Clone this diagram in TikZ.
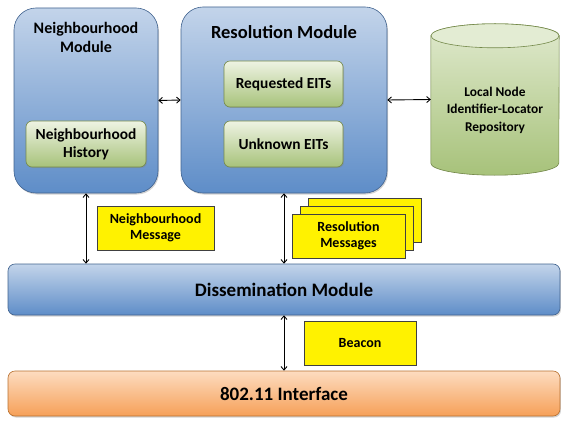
\documentclass[tikz,border=0pt]{standalone}
\usepackage{fontspec}
\setmainfont{Carlito}
\usepackage{tikz}
\usetikzlibrary{arrows.meta,positioning,calc,shadows}
\definecolor{bluetop}{HTML}{C3D4EA}
\definecolor{bluebot}{HTML}{5E8DC8}
\definecolor{blueline}{HTML}{41638F}
\definecolor{greentop}{HTML}{EEF3E3}
\definecolor{greenbot}{HTML}{A7C27A}
\definecolor{greenline}{HTML}{74894A}
\definecolor{orangetop}{HTML}{FDDCC0}
\definecolor{orangebot}{HTML}{F6A058}
\definecolor{orangeline}{HTML}{B8702F}
\tikzset{
  modbox/.style = {rounded corners=22pt, draw=blueline, line width=0.6pt,
                   top color=bluetop, bottom color=bluebot, inner sep=0pt,
                   drop shadow={shadow xshift=1pt, shadow yshift=-1.5pt, opacity=0.35}},
  barbox/.style = {rounded corners=7pt, draw=blueline, line width=0.6pt,
                   top color=bluetop, bottom color=bluebot, inner sep=0pt,
                   font=\fontsize{19}{22}\selectfont\bfseries,
                   drop shadow={shadow xshift=1pt, shadow yshift=-1.5pt, opacity=0.35}},
  inbox/.style  = {rounded corners=6pt, draw=greenline, line width=0.6pt,
                   top color=greentop, bottom color=greenbot, align=center, inner sep=0pt,
                   font=\fontsize{15.4}{18}\selectfont\bfseries,
                   drop shadow={shadow xshift=1pt, shadow yshift=-1pt, opacity=0.35}},
  msg/.style    = {draw=black!75, line width=0.6pt, fill=yellow, align=center, inner sep=0pt,
                   font=\fontsize{14}{16}\selectfont\bfseries,
                   drop shadow={shadow xshift=1.2pt, shadow yshift=-1.2pt, opacity=0.45}},
  ttl/.style    = {align=center, font=\fontsize{16}{19}\selectfont\bfseries},
  ar/.style     = {{Straight Barb[length=3.5pt,width=6pt]}-{Straight Barb[length=3.5pt,width=6pt]},
                   line width=0.9pt},
}

\begin{document}
\begin{tikzpicture}[x=1pt,y=-1pt]
  \useasboundingbox (0,0) rectangle (561,422);

  % upper modules
  \node[modbox, minimum width=144pt, minimum height=185pt] (nmod) at (86,100.5) {};
  \node[ttl] (nmodttl) at (86,37.5) {Neighbourhood\\Module};
  \node[inbox, minimum width=120pt, minimum height=46pt] (nhist) at (86,144)
    {Neighbourhood\\History};

  \node[modbox, minimum width=206pt, minimum height=186pt] (rmod) at (284,100) {};
  \node[ttl, font=\fontsize{18.5}{21}\selectfont\bfseries] (rmodttl) at (284,32) {Resolution Module};
  \node[inbox, minimum width=119pt, minimum height=46pt] (req) at (283.5,84) {Requested EITs};
  \node[inbox, minimum width=119pt, minimum height=46pt] (unk) at (283.5,144) {Unknown EITs};

  % repository (cylinder)
  \node[minimum width=128pt, minimum height=151pt, inner sep=0pt] (repo) at (495,99.5) {};
  \fill[black, opacity=0.3, shift={(1pt,-1.5pt)}]
    ($(repo.north west)+(0,12)$) -- ($(repo.south west)+(0,-12)$)
    arc[start angle=180, end angle=360, x radius=64, y radius=-12]
    -- ($(repo.north east)+(0,12)$) -- cycle;
  \shade[top color=greentop!80!greenbot, bottom color=greenbot, draw=greenline, line width=0.6pt]
    ($(repo.north west)+(0,12)$) -- ($(repo.south west)+(0,-12)$)
    arc[start angle=180, end angle=360, x radius=64, y radius=-12]
    -- ($(repo.north east)+(0,12)$)
    arc[start angle=0, end angle=180, x radius=64, y radius=-12] -- cycle;
  \draw[draw=greenline, line width=0.6pt, fill=greentop!85!greenbot]
    ($(repo.north)+(0,12)$) ellipse[x radius=64, y radius=12];
  \node[align=center, font=\fontsize{13.4}{17.5}\selectfont\bfseries] (repottl) at (495,110)
    {Local Node\\Identifier-Locator\\Repository};

  % lower layers
  \node[barbox, minimum width=552pt, minimum height=51pt] (diss) at (284,289.5) {Dissemination Module};
  \node[barbox, draw=orangeline, top color=orangetop, bottom color=orangebot,
        minimum width=552pt, minimum height=45pt] (iface) at (284,393.5) {802.11 Interface};

  % messages
  \node[msg, minimum width=117pt, minimum height=44pt] (nmsg) at (155.5,228) {Neighbourhood\\Message};
  \node[msg, minimum width=113pt, minimum height=44pt] (rmsg3) at (364.5,220) {};
  \node[msg, minimum width=113pt, minimum height=44pt] (rmsg2) at (356.5,228) {};
  \node[msg, minimum width=113pt, minimum height=44pt] (rmsg) at (348.5,236) {Resolution\\Messages};
  \node[msg, minimum width=112pt, minimum height=44pt] (beacon) at (360,343) {Beacon};

  % connectors
  \draw[ar] (nmod.east) -- (rmod.west);
  \draw[ar] (rmod.east) -- (repo.west);
  \draw[ar] (nmod.south) -- (nmod.south |- diss.north);
  \draw[ar] (rmod.south) -- (rmod.south |- diss.north);
  \draw[ar] (diss.south) -- (iface.north);
\end{tikzpicture}
\end{document}
